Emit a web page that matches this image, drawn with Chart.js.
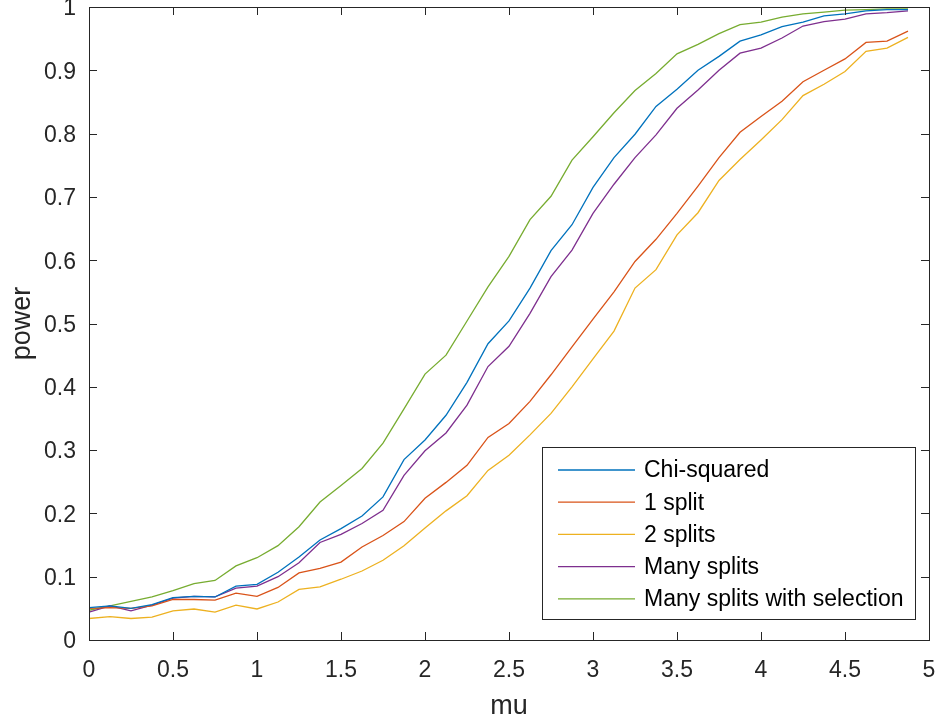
<!DOCTYPE html>
<html>
<head>
<meta charset="utf-8">
<style>
    html, body { margin: 0; padding: 0; background: #fff; }
    #wrap { width: 938px; height: 723px; }
</style>
<script src="https://cdn.jsdelivr.net/npm/chart.js@4.4.1/dist/chart.umd.min.js"></script>
</head>
<body>
<div id="wrap"><canvas id="chart" width="938" height="723"></canvas></div>
<script>
// ─── Data ─────────────────────────────────────────────

const MU = [
    0, 0.125, 0.25, 0.375, 0.5, 0.625, 0.75, 0.875,
    1, 1.125, 1.25, 1.375, 1.5, 1.625, 1.75, 1.875,
    2, 2.125, 2.25, 2.375, 2.5, 2.625, 2.75, 2.875,
    3, 3.125, 3.25, 3.375, 3.5, 3.625, 3.75, 3.875,
    4, 4.125, 4.25, 4.375, 4.5, 4.625, 4.75, 4.875,
];

const CHI_SQUARED = [
    0.051, 0.054, 0.050, 0.056, 0.067, 0.069, 0.068, 0.085,
    0.088, 0.107, 0.131, 0.158, 0.176, 0.196, 0.226, 0.285,
    0.316, 0.355, 0.407, 0.468, 0.504, 0.556, 0.615, 0.656,
    0.715, 0.762, 0.799, 0.843, 0.870, 0.900, 0.922, 0.946,
    0.956, 0.969, 0.976, 0.986, 0.989, 0.994, 0.996, 0.996,
];

const ONE_SPLIT = [
    0.050, 0.051, 0.050, 0.054, 0.064, 0.064, 0.063, 0.074,
    0.069, 0.083, 0.106, 0.113, 0.123, 0.147, 0.165, 0.187,
    0.224, 0.249, 0.276, 0.320, 0.342, 0.377, 0.419, 0.463,
    0.507, 0.550, 0.598, 0.633, 0.674, 0.717, 0.762, 0.802,
    0.827, 0.851, 0.882, 0.900, 0.918, 0.944, 0.946, 0.962,
];

const TWO_SPLITS = [
    0.034, 0.037, 0.034, 0.036, 0.046, 0.049, 0.044, 0.055,
    0.049, 0.060, 0.080, 0.084, 0.096, 0.109, 0.126, 0.149,
    0.177, 0.204, 0.228, 0.268, 0.292, 0.324, 0.358, 0.400,
    0.444, 0.488, 0.556, 0.585, 0.640, 0.675, 0.726, 0.759,
    0.790, 0.822, 0.860, 0.878, 0.898, 0.930, 0.935, 0.952,
];

const MANY_SPLITS = [
    0.044, 0.054, 0.046, 0.055, 0.066, 0.069, 0.068, 0.082,
    0.085, 0.100, 0.122, 0.154, 0.167, 0.184, 0.205, 0.260,
    0.299, 0.327, 0.371, 0.432, 0.464, 0.516, 0.574, 0.616,
    0.674, 0.720, 0.762, 0.798, 0.840, 0.869, 0.900, 0.927,
    0.935, 0.951, 0.970, 0.977, 0.981, 0.989, 0.991, 0.994,
];

const MANY_SPLITS_SEL = [
    0.047, 0.054, 0.061, 0.068, 0.078, 0.089, 0.094, 0.117,
    0.130, 0.149, 0.179, 0.218, 0.244, 0.271, 0.311, 0.365,
    0.420, 0.450, 0.504, 0.558, 0.606, 0.664, 0.701, 0.758,
    0.795, 0.833, 0.868, 0.895, 0.926, 0.941, 0.958, 0.972,
    0.976, 0.984, 0.989, 0.992, 0.995, 0.996, 0.997, 0.997,
];

const SERIES_LABELS = ['Chi-squared', '1 split', '2 splits', 'Many splits', 'Many splits with selection'];
const X_TICKS = [0, 0.5, 1, 1.5, 2, 2.5, 3, 3.5, 4, 4.5, 5];
const Y_TICKS = [0, 0.1, 0.2, 0.3, 0.4, 0.5, 0.6, 0.7, 0.8, 0.9, 1];

// ─── Style ────────────────────────────────────────────

const COLORS = ['#0072BD', '#D95319', '#EDB120', '#7E2F8E', '#77AC30'];
const AXIS_COLOR = '#262626';
const FONT = "'Liberation Sans', Arial, Helvetica, sans-serif";
const TICK_LEN = 8;

// ─── Plugins ──────────────────────────────────────────

// MATLAB-style box with inward ticks on all four sides
const axesBox = {
    id: 'axesBox',
    afterDatasetsDraw(chart) {
        const { ctx, chartArea: a, scales: { x, y } } = chart;
        ctx.save();
        ctx.strokeStyle = AXIS_COLOR;
        ctx.lineWidth = 1;
        ctx.beginPath();
        X_TICKS.forEach(v => {
            const px = Math.round(x.getPixelForValue(v)) + 0.5;
            ctx.moveTo(px, a.bottom); ctx.lineTo(px, a.bottom - TICK_LEN);
            ctx.moveTo(px, a.top);    ctx.lineTo(px, a.top + TICK_LEN);
        });
        Y_TICKS.forEach(v => {
            const py = Math.round(y.getPixelForValue(v)) + 0.5;
            ctx.moveTo(a.left, py);  ctx.lineTo(a.left + TICK_LEN, py);
            ctx.moveTo(a.right, py); ctx.lineTo(a.right - TICK_LEN, py);
        });
        ctx.stroke();
        ctx.strokeRect(a.left + 0.5, a.top + 0.5, a.right - a.left, a.bottom - a.top);
        ctx.restore();
    },
};

// Legend box inside the lower-right corner of the axes
const insideLegend = {
    id: 'insideLegend',
    afterDraw(chart) {
        const { ctx, chartArea: a } = chart;
        const w = 373, h = 172;
        const x0 = a.right - 14 - w;
        const y0 = a.bottom - 21 - h;
        ctx.save();
        ctx.fillStyle = '#fff';
        ctx.fillRect(x0, y0, w, h);
        ctx.strokeStyle = AXIS_COLOR;
        ctx.lineWidth = 1;
        ctx.strokeRect(x0 + 0.5, y0 + 0.5, w, h);
        ctx.font = `23px ${FONT}`;
        ctx.textBaseline = 'middle';
        ctx.fillStyle = '#000';
        chart.data.datasets.forEach((ds, i) => {
            const cy = y0 + 23 + i * 32.2;
            ctx.strokeStyle = ds.borderColor;
            ctx.lineWidth = 1.3;
            ctx.beginPath();
            ctx.moveTo(x0 + 16, cy);
            ctx.lineTo(x0 + 93, cy);
            ctx.stroke();
            ctx.fillText(ds.label, x0 + 102, cy + 1);
        });
        ctx.restore();
    },
};

// ─── Chart ────────────────────────────────────────────

const seriesValues = [CHI_SQUARED, ONE_SPLIT, TWO_SPLITS, MANY_SPLITS, MANY_SPLITS_SEL];

const datasets = seriesValues.map((vals, i) => ({
    label: SERIES_LABELS[i],
    data: MU.map((m, j) => ({ x: m, y: vals[j] })),
    borderColor: COLORS[i],
    backgroundColor: COLORS[i],
    borderWidth: 1.3,
    pointRadius: 0,
    tension: 0,
    fill: false,
}));

const fmt = v => String(Math.round(v * 10) / 10);

new Chart(document.getElementById('chart').getContext('2d'), {
    type: 'line',
    data: { datasets },
    options: {
        responsive: false,
        devicePixelRatio: 1,
        animation: false,
        layout: { padding: { left: 0, right: 9, top: 7, bottom: 0 } },
        plugins: {
            legend: { display: false },
            tooltip: { enabled: false },
        },
        scales: {
            x: {
                type: 'linear',
                min: 0,
                max: 5,
                afterBuildTicks: s => { s.ticks = X_TICKS.map(v => ({ value: v })); },
                afterFit: s => {
                    s.height = 83;
                    s.paddingLeft = 0;
                    s.paddingRight = 0;
                },
                grid: { display: false },
                border: { display: false },
                ticks: {
                    color: AXIS_COLOR,
                    font: { family: FONT, size: 23 },
                    padding: 9,
                    maxRotation: 0,
                    autoSkip: false,
                    callback: fmt,
                },
                title: {
                    display: true,
                    text: 'mu',
                    color: AXIS_COLOR,
                    font: { family: FONT, size: 27 },
                    padding: { top: 0, bottom: 0 },
                },
            },
            y: {
                type: 'linear',
                min: 0,
                max: 1,
                afterBuildTicks: s => { s.ticks = Y_TICKS.map(v => ({ value: v })); },
                afterFit: s => {
                    s.width = 89;
                    s.paddingTop = 0;
                    s.paddingBottom = 0;
                },
                grid: { display: false },
                border: { display: false },
                ticks: {
                    color: AXIS_COLOR,
                    font: { family: FONT, size: 23 },
                    padding: 5,
                    labelOffset: 2,
                    autoSkip: false,
                    callback: fmt,
                },
                title: {
                    display: true,
                    text: 'power',
                    color: AXIS_COLOR,
                    font: { family: FONT, size: 27 },
                    padding: { top: 6, bottom: 0 },
                },
            },
        },
    },
    plugins: [axesBox, insideLegend],
});
</script>
</body>
</html>
